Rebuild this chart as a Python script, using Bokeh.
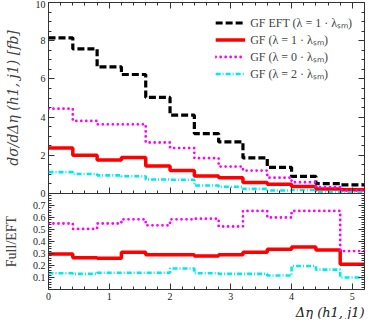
from bokeh.plotting import figure
from bokeh.layouts import column
from bokeh.models import (Range1d, LinearAxis, SingleIntervalTicker, FixedTicker,
                          Legend, LegendItem, Title)
from bokeh.embed import file_html
from bokeh.resources import INLINE

# ---------------- data ----------------
bin_edges = [0.0, 0.4, 0.8, 1.2, 1.6, 2.0, 2.4, 2.8, 3.2, 3.6, 4.0, 4.4, 4.8, 5.2]

gf_eft_lam1 = [8.15, 7.57, 6.63, 6.23, 5.03, 4.10, 3.14, 2.70, 1.86, 1.37, 0.90, 0.52, 0.45]
gf_lam1     = [2.38, 2.00, 1.75, 1.88, 1.44, 1.20, 0.92, 0.82, 0.58, 0.48, 0.36, 0.24, 0.19]
gf_lam0     = [4.44, 3.80, 3.62, 3.62, 2.67, 2.38, 1.85, 1.41, 1.20, 0.83, 0.59, 0.33, 0.15]
gf_lam2     = [1.12, 1.02, 0.95, 0.90, 0.73, 0.72, 0.42, 0.35, 0.24, 0.16, 0.18, 0.08, 0.05]

ratio_lam1 = [0.295, 0.265, 0.26, 0.31, 0.29, 0.29, 0.28, 0.29, 0.31, 0.335, 0.355, 0.33, 0.21]
ratio_lam0 = [0.55, 0.505, 0.55, 0.585, 0.535, 0.585, 0.59, 0.525, 0.655, 0.60, 0.655, 0.655, 0.32]
ratio_lam2 = [0.135, 0.13, 0.14, 0.14, 0.14, 0.175, 0.135, 0.13, 0.13, 0.117, 0.196, 0.166, 0.10]

legend_labels = ["GF EFT (λ = 1 · λₛₘ)", "GF (λ = 1 · λₛₘ)",
                 "GF (λ = 0 · λₛₘ)", "GF (λ = 2 · λₛₘ)"]

main_ticks = [0, 2, 4, 6, 8, 10]
ratio_ticks = [0.1, 0.2, 0.3, 0.4, 0.5, 0.6, 0.7]
x_label = "Δη (h1, j1)"

# ---------------- styles ----------------
SERIF = "Liberation Serif"
styles = [
    dict(line_color="black", line_width=3.2, line_dash="7 3"),
    dict(line_color="#ff0000", line_width=3.5),
    dict(line_color="#ff00ff", line_width=2.8, line_dash="0 5", line_cap="round"),
    dict(line_color="#00eaea", line_width=2.6, line_dash="5 2 1 2"),
]


def close(vals):
    return list(vals) + [vals[-1]]


def style_axis(ax, labels=True, size="10px"):
    ax.major_tick_in = 6
    ax.major_tick_out = 0
    ax.minor_tick_in = 3
    ax.minor_tick_out = 0
    ax.axis_line_color = None
    ax.major_tick_line_color = "#333333"
    ax.minor_tick_line_color = "#333333"
    ax.major_label_text_font = SERIF
    if labels:
        ax.major_label_text_font_size = size
        ax.major_label_standoff = 3
        ax.major_label_text_color = "#222222"
    else:
        ax.major_label_text_font_size = "1px"
        ax.major_label_standoff = 0
        ax.major_label_text_color = None


W = 366
LEFT = 45
RIGHT = 2
OVERLAP = 5

# ---------------- top panel ----------------
p1 = figure(width=W, height=198,
            x_range=Range1d(0, 5.2), y_range=Range1d(0, 10),
            output_backend="svg", toolbar_location=None,
            min_border_left=LEFT, min_border_right=RIGHT, min_border_top=2,
            min_border_bottom=OVERLAP)
p1.grid.visible = False
p1.outline_line_color = "#333333"
p1.border_fill_color = None
p1.background_fill_color = None
p1.xaxis.ticker = SingleIntervalTicker(interval=1, num_minor_ticks=5)
main_minor = [i * 0.5 for i in range(0, 21)]
p1.yaxis.ticker = FixedTicker(ticks=main_ticks, minor_ticks=main_minor)
style_axis(p1.xaxis[0], labels=False)
style_axis(p1.yaxis[0])
p1.yaxis.axis_label = "dσ/dΔη (h1, j1) [fb]"
p1.yaxis.axis_label_text_font = "DejaVu Serif"
p1.yaxis.axis_label_text_font_style = "italic"
p1.yaxis.axis_label_text_font_size = "14px"
p1.yaxis.axis_label_standoff = 12

ax_r = LinearAxis(ticker=FixedTicker(ticks=main_ticks, minor_ticks=main_minor))
style_axis(ax_r, labels=False)
p1.add_layout(ax_r, "right")
ax_t = LinearAxis(ticker=SingleIntervalTicker(interval=1, num_minor_ticks=5))
style_axis(ax_t, labels=False)
p1.add_layout(ax_t, "above")

items = []
for vals, st, lab in zip([gf_eft_lam1, gf_lam1, gf_lam0, gf_lam2], styles, legend_labels):
    r = p1.step(x=bin_edges, y=close(vals), mode="after", **st)
    items.append(LegendItem(label=lab, renderers=[r]))

leg = Legend(items=items, location="top_right")
leg.border_line_color = None
leg.background_fill_alpha = 0
leg.label_text_font = SERIF
leg.label_text_font_size = "12px"
leg.label_height = 11
leg.glyph_width = 30
leg.glyph_height = 11
leg.spacing = 0
leg.padding = 4
leg.margin = 12
leg.label_standoff = 5
p1.add_layout(leg)

# ---------------- ratio panel ----------------
p2 = figure(width=W, height=126,
            x_range=p1.x_range, y_range=Range1d(0, 0.8),
            output_backend="svg", toolbar_location=None,
            min_border_left=LEFT, min_border_right=RIGHT, min_border_top=0, min_border_bottom=30)
p2.margin = (-OVERLAP, 0, 0, 0)
p2.grid.visible = False
p2.outline_line_color = "#333333"
p2.border_fill_color = None
p2.background_fill_color = None
p2.xaxis.ticker = SingleIntervalTicker(interval=1, num_minor_ticks=5)
minor = [round(i * 0.02, 2) for i in range(1, 40)]
p2.yaxis.ticker = FixedTicker(ticks=ratio_ticks, minor_ticks=minor)
style_axis(p2.xaxis[0])
style_axis(p2.yaxis[0])
p2.yaxis.axis_label = "Full/EFT"
p2.yaxis.axis_label_text_font = SERIF
p2.yaxis.axis_label_text_font_style = "normal"
p2.yaxis.axis_label_text_font_size = "14px"
p2.yaxis.axis_label_standoff = 11

xt = Title(text=x_label, align="right", text_font="DejaVu Serif",
           text_font_style="italic", text_font_size="13px", text_color="#222222",
           standoff=0)
p2.add_layout(xt, "below")

ax_r2 = LinearAxis(ticker=FixedTicker(ticks=ratio_ticks, minor_ticks=minor))
style_axis(ax_r2, labels=False)
p2.add_layout(ax_r2, "right")

for vals, st in zip([ratio_lam1, ratio_lam0, ratio_lam2], styles[1:]):
    p2.step(x=bin_edges, y=close(vals), mode="after", **st)

layout = column(p1, p2, spacing=0)
open("out.html", "w").write(file_html(layout, INLINE))
